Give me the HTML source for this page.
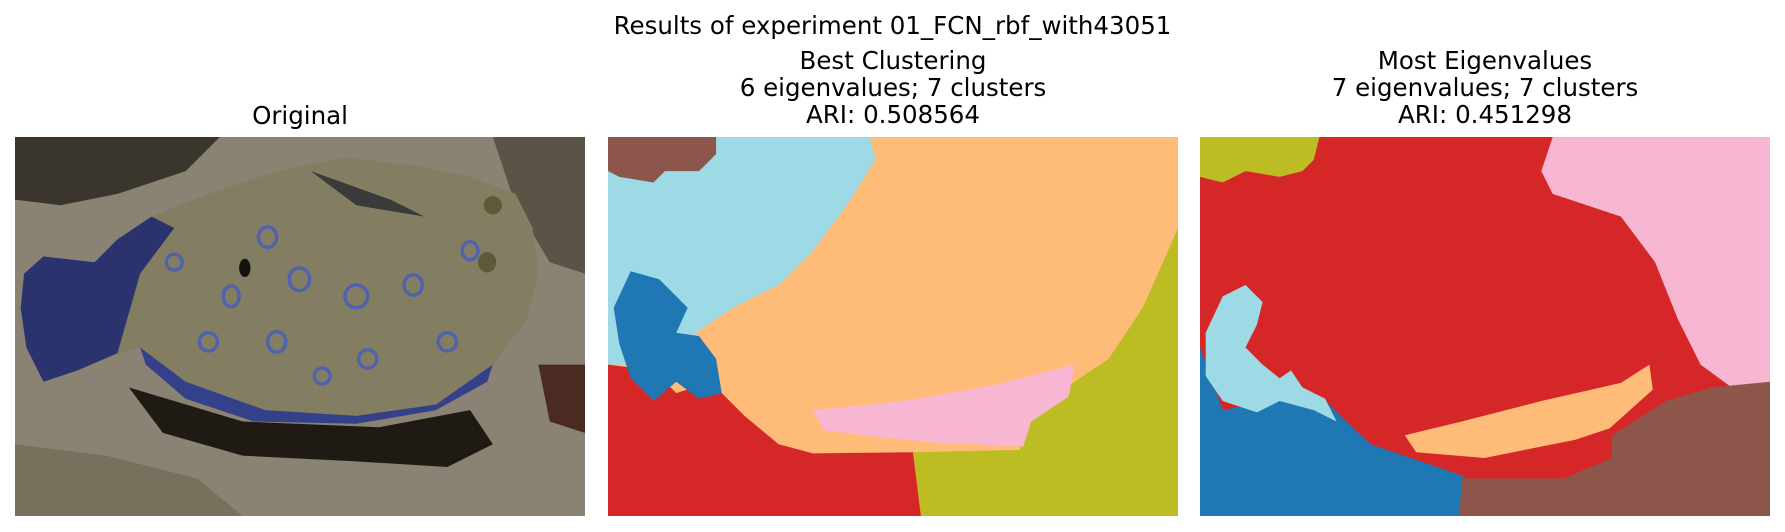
<!DOCTYPE html>
<html><head><meta charset="utf-8">
<style>
html,body{margin:0;padding:0;background:#fff;}
#fig{position:relative;width:1785px;height:532px;overflow:hidden;font-family:"DejaVu Sans","Liberation Sans",sans-serif;color:#000;}
.t{position:absolute;text-align:center;font-size:24.5px;line-height:27px;white-space:nowrap;}
svg.p{position:absolute;top:137px;width:570px;height:379px;}
</style></head><body>
<div id="fig">
<div class="t" style="left:0;width:1785px;top:12px;">Results of experiment 01_FCN_rbf_with43051</div>
<div class="t" style="left:15px;width:570px;top:102px;">Original</div>
<div class="t" style="left:608px;width:570px;top:47px;">Best Clustering<br>6 eigenvalues; 7 clusters<br>ARI: 0.508564</div>
<div class="t" style="left:1200px;width:570px;top:47px;">Most Eigenvalues<br>7 eigenvalues; 7 clusters<br>ARI: 0.451298</div>

<svg class="p" style="left:15px" viewBox="0 0 501 333" preserveAspectRatio="none">
<rect width="501" height="333" fill="#8a8272"/>
<polygon points="0,0 180,0 150,30 90,50 40,60 0,55" fill="#3a362d"/>
<polygon points="420,0 501,0 501,120 470,110 440,60" fill="#5a5446"/>
<polygon points="0,270 80,280 160,300 200,333 0,333" fill="#76705c"/>
<polygon points="100,220 200,250 320,255 400,240 420,270 380,290 300,285 200,280 130,260" fill="#1f1b14"/>
<polygon points="460,200 501,200 501,260 470,250" fill="#4b2a22"/>
<polygon points="8,120 25,105 70,110 90,90 120,70 170,50 230,30 290,18 350,25 400,35 440,50 455,80 460,120 450,160 420,200 370,235 300,245 220,245 160,230 120,205 110,185 90,190 55,205 25,215 10,185 5,150" fill="#837d62"/>
<polygon points="8,120 25,105 70,110 90,90 120,70 140,80 110,120 90,190 55,205 25,215 10,185 5,150" fill="#2a336e"/>
<polygon points="110,185 150,215 220,240 300,245 370,235 420,200 415,215 370,240 300,252 210,250 150,230 115,200" fill="#34408a"/>
<polygon points="260,30 330,55 360,70 300,60" fill="#3a3a38"/>
<g fill="none" stroke="#4f62b0" stroke-width="3">
<ellipse cx="222" cy="88" rx="8" ry="9"/><ellipse cx="250" cy="125" rx="9" ry="10"/><ellipse cx="300" cy="140" rx="10" ry="10"/>
<ellipse cx="190" cy="140" rx="7" ry="9"/><ellipse cx="170" cy="180" rx="8" ry="8"/><ellipse cx="230" cy="180" rx="8" ry="9"/>
<ellipse cx="350" cy="130" rx="8" ry="9"/><ellipse cx="380" cy="180" rx="8" ry="8"/><ellipse cx="310" cy="195" rx="8" ry="8"/>
<ellipse cx="140" cy="110" rx="7" ry="7"/><ellipse cx="400" cy="100" rx="7" ry="8"/><ellipse cx="270" cy="210" rx="7" ry="7"/>
</g>
<ellipse cx="202" cy="115" rx="5" ry="8" fill="#15130f"/>
<ellipse cx="420" cy="60" rx="8" ry="8" fill="#5d5a3a"/><ellipse cx="415" cy="110" rx="8" ry="9" fill="#5d5a3a"/>
</svg>

<svg class="p" style="left:608px" viewBox="0 0 501 333" preserveAspectRatio="none">
<rect width="501" height="333" fill="#ffbb78"/>
<polygon points="0,0 230,0 235,20 210,60 180,100 150,130 110,150 80,170 60,190 40,200 0,200" fill="#9edae5"/>
<polygon points="0,0 95,0 95,15 80,30 50,30 40,40 10,35 0,30" fill="#8c564b"/>
<polygon points="0,200 40,205 60,225 90,215 120,245 150,270 180,278 268,277 280,333 0,333" fill="#d62728"/>
<polygon points="5,150 20,118 45,125 70,150 60,172 80,175 95,195 100,225 80,230 60,215 40,232 20,212 10,182" fill="#1f77b4"/>
<polygon points="501,80 490,105 470,150 440,195 410,215 380,240 365,250 362,275 268,277 275,333 501,333" fill="#bcbd22"/>
<polygon points="180,240 260,232 340,218 410,200 405,228 372,250 365,272 280,268 190,258" fill="#f7b6d2"/>
</svg>

<svg class="p" style="left:1200px" viewBox="0 0 501 333" preserveAspectRatio="none">
<rect width="501" height="333" fill="#d62728"/>
<polygon points="0,0 105,0 100,20 90,30 70,35 40,30 20,40 0,35" fill="#bcbd22"/>
<polygon points="310,0 501,0 501,218 470,222 440,200 420,160 400,110 370,70 310,50 300,30" fill="#f7b6d2"/>
<polygon points="0,185 20,240 45,235 80,220 110,232 150,270 232,298 232,333 0,333" fill="#1f77b4"/>
<polygon points="410,232 450,220 501,215 501,333 228,333 230,300 320,300 362,282 362,262" fill="#8c564b"/>
<polygon points="5,172 20,140 40,130 55,145 50,165 40,185 55,200 70,212 80,205 90,220 110,230 120,250 100,240 70,232 50,242 20,232 5,210" fill="#9edae5"/>
<polygon points="180,262 230,250 300,232 370,216 395,200 398,222 360,256 330,266 250,282 190,277" fill="#ffbb78"/>
</svg>
</div>
</body></html>
